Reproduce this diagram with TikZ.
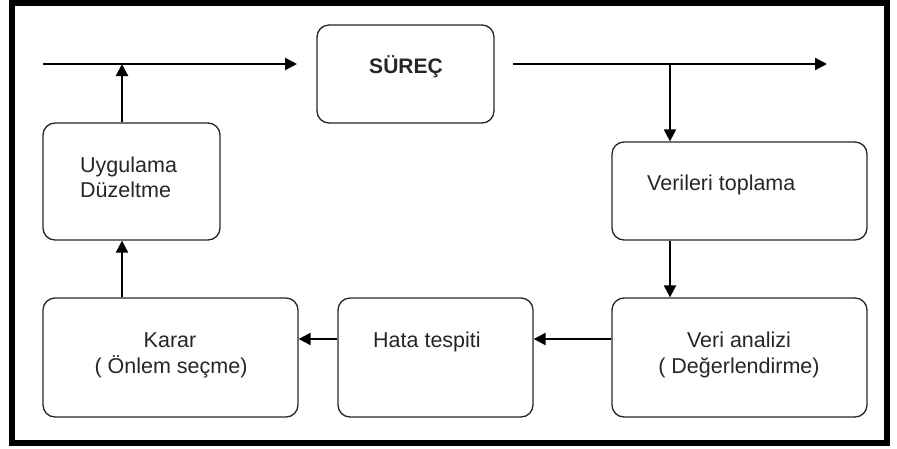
\documentclass[tikz,border=0pt]{standalone}
\usepackage{fontspec}
\setmainfont{Liberation Sans}
\usetikzlibrary{arrows.meta,calc}
\tikzset{
  box/.style={draw=black!85, line width=1.3pt, rounded corners=12pt, inner sep=0pt},
  txt/.style={font=\fontsize{21.5}{27}\selectfont, text=black!85, inner sep=0pt},
  arr/.style={line width=2.2pt, -{Triangle[length=12pt,width=12pt]}},
  frame/.style={line width=6pt}
}
\begin{document}
\begin{tikzpicture}[x=1pt,y=-1pt]
\useasboundingbox (0,0) rectangle (897,448);
\draw[frame] (12,3) rectangle (887,443);
% boxes
\node[box, minimum width=177pt, minimum height=98pt] (sur) at (405.5,74) {};
\node[box, minimum width=177pt, minimum height=117pt] (uyg) at (131.5,181.5) {};
\node[box, minimum width=255pt, minimum height=98pt] (ver) at (739.5,191) {};
\node[box, minimum width=255pt, minimum height=119pt] (ana) at (739.5,357.5) {};
\node[box, minimum width=195pt, minimum height=119pt] (hata) at (435.5,357.5) {};
\node[box, minimum width=255pt, minimum height=119pt] (kar) at (170.5,357.5) {};
% texts
\node[txt, anchor=base, font=\fontsize{21}{25}\selectfont\bfseries] (surT) at (406,73) {SÜREÇ};
\node[txt, anchor=base west] (uygT1) at (80,172) {Uygulama};
\node[txt, anchor=base west] (uygT2) at (80,197) {Düzeltme};
\node[txt, anchor=base west] (verT) at (647,190) {Verileri toplama};
\node[txt, anchor=base] (anaT1) at (739,347) {Veri analizi};
\node[txt, anchor=base] (anaT2) at (739,373) {( Değerlendirme)};
\node[txt, anchor=base west] (hataT) at (373,347) {Hata tespiti};
\node[txt, anchor=base] (karT1) at (170,347) {Karar};
\node[txt, anchor=base] (karT2) at (171,373) {( Önlem seçme)};
% connector coordinates
\coordinate (inL) at (43,64);
\coordinate (inR) at (297,64);
\coordinate (outL) at (513,64);
\coordinate (outR) at (827,64);
\coordinate (jL) at (122,64);
\coordinate (jR) at (670,64);
\coordinate (yA) at (0,339);
% connectors
\draw[arr] (inL) -- (inR);
\draw[arr] (outL) -- (outR);
\draw[arr] (jR) -- (jR |- ver.north);
\draw[arr] (jR |- ver.south) -- (jR |- ana.north);
\draw[arr] (ana.west |- yA) -- (hata.east |- yA);
\draw[arr] (hata.west |- yA) -- (kar.east |- yA);
\draw[arr] (jL |- kar.north) -- (jL |- uyg.south);
\draw[arr] (jL |- uyg.north) -- (jL);
\end{tikzpicture}
\end{document}
